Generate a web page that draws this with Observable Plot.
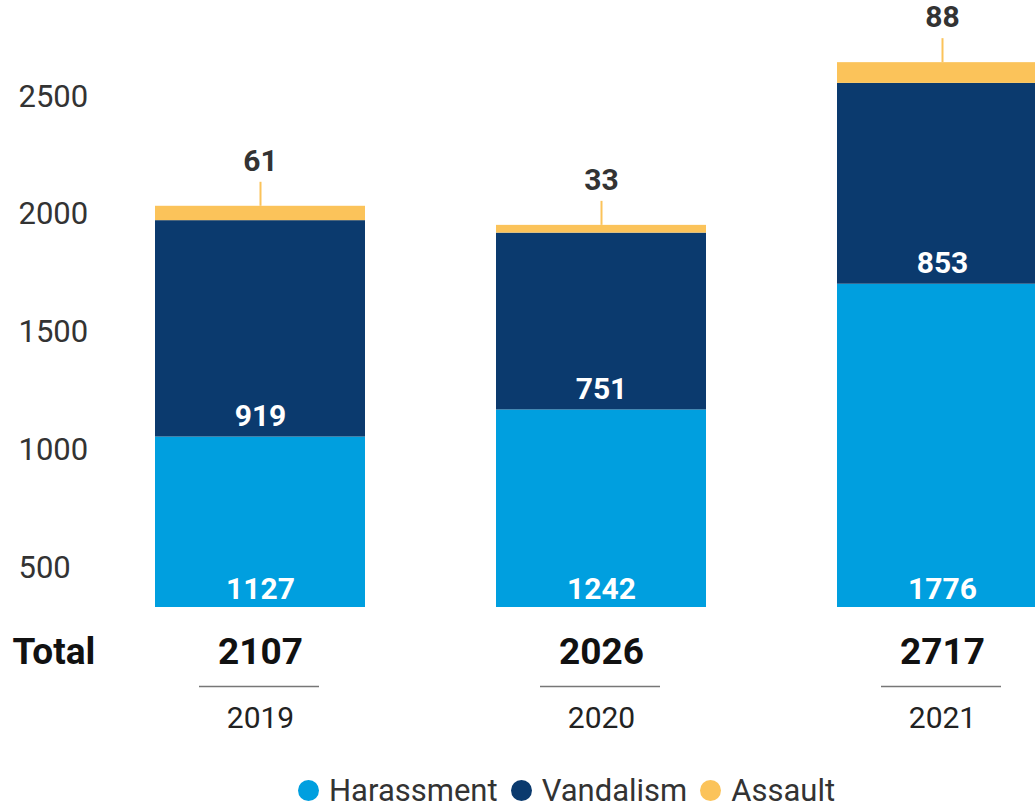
<!DOCTYPE html>
<html>
<head>
<meta charset="utf-8">
<script src="https://cdn.jsdelivr.net/npm/d3@7"></script>
<script src="https://cdn.jsdelivr.net/npm/@observablehq/plot@0.6"></script>
<style>
  html, body { margin: 0; padding: 0; background: #fff; overflow: hidden; }
  body { width: 1035px; height: 807px; font-family: Roboto, "Noto Sans", sans-serif; }
  #chart svg { display: block; }
  .legend { margin-top: 3px; height: 29px; line-height: 29px; display: flex; align-items: center; padding-left: 298px; font-size: 31px; color: #333; white-space: nowrap; }
  .legend span.item { display: inline-flex; align-items: center; margin-right: 13px; height: 29px; line-height: 29px; }
  .legend span.sw { display: inline-block; width: 21px; height: 21px; border-radius: 50%; margin-right: 10px; }
</style>
</head>
<body>
<div id="chart"></div>
<div class="legend" id="legend"></div>
<script>
const years = ["2019", "2020", "2021"];
const categories = ["Harassment", "Vandalism", "Assault"];
const harassment = [1127, 1242, 1776];
const vandalism = [919, 751, 853];
const assault = [61, 33, 88];
const totals = [2107, 2026, 2717];
const yTicks = [500, 1000, 1500, 2000, 2500];
const colors = ["#009FDF", "#0B3A6E", "#FBC35A"];

const seriesValues = [harassment, vandalism, assault];
const rows = [];
categories.forEach((c, ci) => years.forEach((y, yi) => rows.push({year: y, category: c, value: seriesValues[ci][yi]})));
const perYear = years.map((y, i) => ({year: y, harassment: harassment[i], vandalism: vandalism[i], assault: assault[i], total: totals[i]}));

const yDomain = [403, 2981];

const chart = Plot.plot({
  width: 1035,
  height: 773,
  marginTop: 0,
  marginBottom: 166,
  marginLeft: 0,
  marginRight: 0,
  style: {fontFamily: "Roboto, 'Noto Sans', sans-serif", background: "white"},
  x: {domain: years, range: [24, 1178], padding: 0.384, axis: null},
  y: {domain: yDomain, axis: null},
  color: {domain: categories, range: colors},
  marks: [
    Plot.barY(rows, {x: "year", y: "value", fill: "category", clip: true}),
    // y tick labels sitting above their positions
    Plot.text(yTicks, {y: d => d, text: d => String(d), frameAnchor: "left", textAnchor: "start", dx: 18, dy: -17, fontSize: 31, fill: "#333"}),
    // harassment labels
    Plot.text(perYear, {x: "year", text: d => String(d.harassment), frameAnchor: "bottom", lineAnchor: "middle", dy: -18, fill: "white", fontWeight: "bold", fontSize: 30}),
    // vandalism labels
    Plot.text(perYear, {x: "year", y: "harassment", text: d => String(d.vandalism), dy: -21, fill: "white", fontWeight: "bold", fontSize: 30}),
    // assault leader lines
    Plot.ruleX(perYear, {x: "year", y1: "total", y2: "total", insetBottom: 24, stroke: colors[2], strokeWidth: 2}),
    // assault labels
    Plot.text(perYear, {x: "year", y: "total", text: d => String(d.assault), dy: -45, fill: "#333", fontWeight: "bold", fontSize: 30}),
    // Total row
    Plot.text(["Total"], {frameAnchor: "bottom-left", lineAnchor: "middle", dx: 12, dy: 45, textAnchor: "start", text: d => d, fontWeight: "bold", fontSize: 37, fill: "#111"}),
    Plot.text(perYear, {x: "year", text: d => String(d.total), frameAnchor: "bottom", lineAnchor: "middle", dy: 45, fontWeight: "bold", fontSize: 37, fill: "#111"}),
    Plot.tickY(perYear, {x: "year", y: () => yDomain[0], dy: 79, insetLeft: 44, insetRight: 46, stroke: "#777", strokeWidth: 1.5}),
    Plot.text(perYear, {x: "year", text: "year", frameAnchor: "bottom", lineAnchor: "middle", dy: 111, fontSize: 30, fill: "#222"})
  ]
});
document.getElementById("chart").appendChild(chart);

const legend = document.getElementById("legend");
categories.forEach((c, i) => {
  const item = document.createElement("span");
  item.className = "item";
  const sw = document.createElement("span");
  sw.className = "sw";
  sw.style.background = colors[i];
  item.appendChild(sw);
  item.appendChild(document.createTextNode(c));
  legend.appendChild(item);
});
</script>
</body>
</html>
